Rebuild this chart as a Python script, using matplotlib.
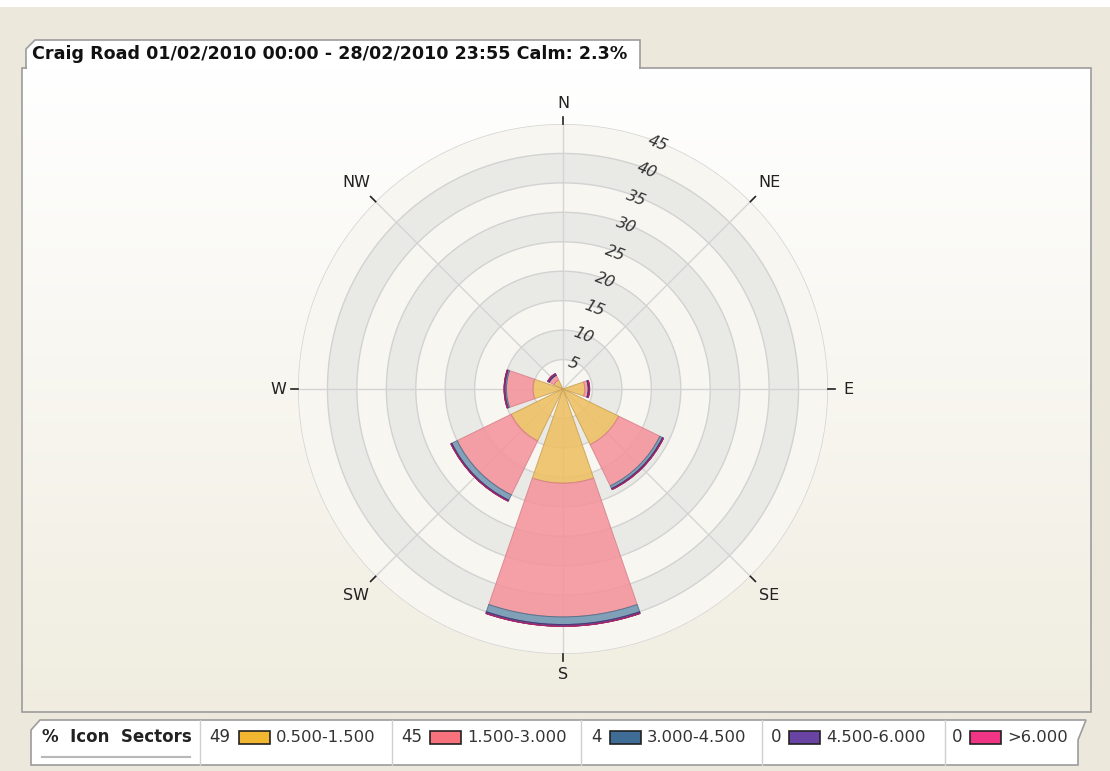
import numpy as np
import matplotlib
matplotlib.use("Agg")
import matplotlib.pyplot as plt
from matplotlib.patches import Polygon, Rectangle

# ---------------- DATA ----------------
TITLE = "Craig Road 01/02/2010 00:00 - 28/02/2010 23:55 Calm: 2.3%"
directions = ["N", "NE", "E", "SE", "S", "SW", "W", "NW"]
angles_deg = [0, 45, 90, 135, 180, 225, 270, 315]

# stacked frequency (%) per speed class, per direction
speed_05_15 = [0.0, 0.0, 3.7, 10.5, 16.0, 9.8, 5.1, 1.7]
speed_15_30 = [0.0, 0.0, 0.6, 7.8, 22.7, 10.2, 4.5, 0.9]
speed_30_45 = [0.0, 0.0, 0.0, 0.5, 1.3, 1.0, 0.25, 0.0]
speed_45_60 = [0.0, 0.0, 0.2, 0.2, 0.3, 0.2, 0.15, 0.3]
speed_60 = [0.0, 0.0, 0.05, 0.0, 0.0, 0.0, 0.0, 0.0]

class_labels = ["0.500-1.500", "1.500-3.000", "3.000-4.500", "4.500-6.000", ">6.000"]
class_pct = [49, 45, 4, 0, 0]
radial_ticks = [5, 10, 15, 20, 25, 30, 35, 40, 45]
# --------------------------------------

bar_colors = ["#eebf5f", "#f5929a", "#6e94b0", "#5b3d8c", "#e0307a"]
edge_colors = ["#c9a055", "#d8808a", "#4f6f8a", "#4a2d70", "#b02060"]
swatch_colors = ["#f3b630", "#f7727c", "#3f6d96", "#6a44a4", "#ef3583"]

W, H = 1110, 771
fig = plt.figure(figsize=(W / 100, H / 100), dpi=100)
fig.patch.set_facecolor("#ece9dc")

# background axes in pixel coordinates
bg = fig.add_axes([0, 0, 1, 1])
bg.set_xlim(0, W)
bg.set_ylim(H, 0)
bg.axis("off")
bg.add_patch(Rectangle((0, 0), W, 7, color="white", lw=0))

# main panel with vertical gradient
grad = np.linspace(0, 1, 256)[:, None]
top = np.array([1.0, 1.0, 1.0])
bot = np.array([240, 237, 224]) / 255
img = top + (bot - top) * grad[..., None]
img = np.repeat(img, 2, axis=1)
bg.imshow(img, extent=(22, 1091, 712, 68), aspect="auto", zorder=1)
bg.add_patch(Rectangle((22, 68), 1069, 644, fill=False, ec="#9c9c9c", lw=1.2, zorder=2))

# title tab
tab = Polygon([(26, 68), (26, 49), (35, 40), (640, 40), (640, 68)], closed=True,
              fc="white", ec="#9c9c9c", lw=1.2, zorder=3)
bg.add_patch(tab)
bg.add_patch(Rectangle((27, 66), 612, 4, color="white", lw=0, zorder=4))
bg.text(32, 54, TITLE, fontsize=12.6, fontweight="bold", va="center", ha="left",
        color="#111111", zorder=5)

# legend strip
leg = Polygon([(31, 765), (31, 730), (40, 720), (1086, 720), (1078, 740), (1078, 765)],
              closed=True, fc="white", ec="#9c9c9c", lw=1.2, zorder=3)
bg.add_patch(leg)
bg.text(42, 737, "%  Icon  Sectors", fontsize=12, fontweight="bold", va="center",
        ha="left", color="#222222", zorder=5)
bg.plot([42, 190], [757, 757], color="#8a8a8a", lw=1.5, alpha=0.6, zorder=5)
dividers = [200, 392, 581, 762, 945]
num_x = [209, 401, 591, 771, 952]
sw_x = [239, 430, 610, 789, 970]
for i in range(5):
    bg.plot([dividers[i], dividers[i]], [720, 765], color="#cfcfcf", lw=1, zorder=4)
    bg.text(num_x[i], 737, str(class_pct[i]), fontsize=12, va="center", ha="left",
            color="#333333", zorder=5)
    bg.add_patch(Rectangle((sw_x[i], 731), 31, 13, fc=swatch_colors[i], ec="#222222",
                           lw=1.2, zorder=5))
    bg.text(sw_x[i] + 37, 737, class_labels[i], fontsize=11.8, va="center", ha="left",
            color="#333333", zorder=5)

# polar wind rose
cx, cy, R = 563, 389, 265
ax = fig.add_axes([(cx - R) / W, (H - cy - R) / H, 2 * R / W, 2 * R / H], projection="polar")
ax.set_facecolor("none")
ax.set_theta_zero_location("N")
ax.set_theta_direction(-1)
ax.set_ylim(0, 45)
ax.set_xticks([])
ax.set_yticks([])
ax.grid(False)
ax.spines["polar"].set_visible(False)

# shaded rings
for r0 in range(0, 45, 5):
    col = "#e9e9e6" if (r0 // 5) % 2 == 1 else "#f7f6f1"
    ax.bar(0, 5, width=2 * np.pi, bottom=r0, color=col, lw=0, zorder=0)
th = np.linspace(0, 2 * np.pi, 400)
for r in radial_ticks:
    ax.plot(th, np.full_like(th, r), color="#d2d2d2", lw=1, zorder=1)
for a in angles_deg:
    ax.plot([np.deg2rad(a)] * 2, [0, 45], color="#d4d4d4", lw=1, zorder=1)

# stacked sectors
theta = np.deg2rad(angles_deg)
width = np.deg2rad(38)
series = [speed_05_15, speed_15_30, speed_30_45, speed_45_60, speed_60]
bottom = np.zeros(len(directions))
for vals, c, ec in zip(series, bar_colors, edge_colors):
    vals = np.array(vals)
    ax.bar(theta, vals, width=width, bottom=bottom, color=c, edgecolor=ec,
           lw=0.7, alpha=0.86, zorder=3)
    bottom = bottom + vals

# compass labels and ticks
for a, lab in zip(angles_deg, directions):
    t = np.deg2rad(a)
    ax.plot([t, t], [45, 46.2], color="#222222", lw=1.2, clip_on=False, zorder=4)
    rl = 49.6 if a % 90 else 48.4
    ax.text(t, rl, lab, fontsize=11.5, ha="center", va="center", color="#222222",
            clip_on=False)

# radial labels
lab_ang = np.deg2rad(21)
for r in radial_ticks:
    ax.text(lab_ang, r - 0.3, str(r), fontsize=11.5, style="italic", rotation=-21,
            ha="center", va="center", color="#333333", zorder=5)

fig.savefig("out.png", dpi=100, facecolor=fig.get_facecolor())
